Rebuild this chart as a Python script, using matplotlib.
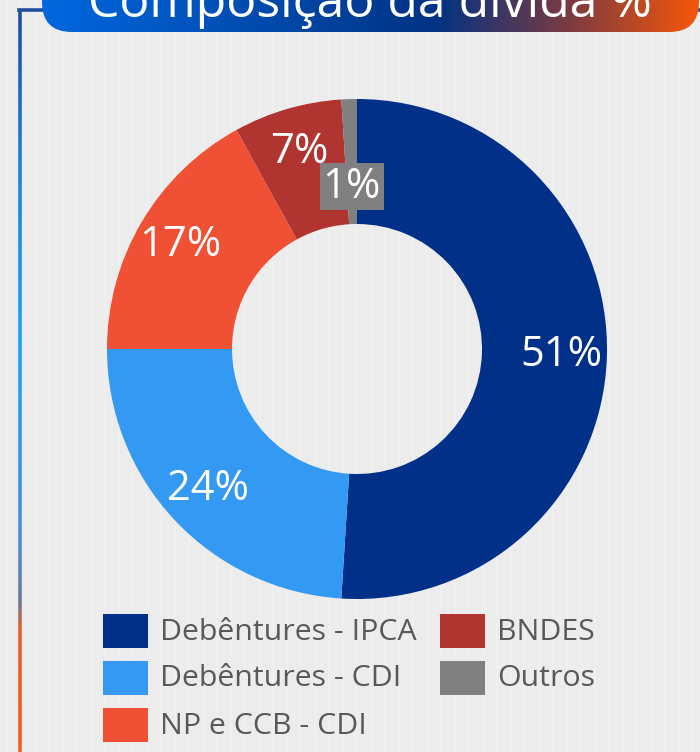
import numpy as np
import matplotlib
matplotlib.use("Agg")
import matplotlib.pyplot as plt
from matplotlib.patches import FancyBboxPatch, Rectangle
from matplotlib.collections import LineCollection
from matplotlib.colors import LinearSegmentedColormap

plt.rcParams["font.family"] = ["Open Sans", "DejaVu Sans"]

TITLE = "Composição da dívida %"
categories = ["Debêntures - IPCA", "Debêntures - CDI", "NP e CCB - CDI", "BNDES", "Outros"]
shares = [51, 24, 17, 7, 1]
colors = ["#003087", "#3399F3", "#F05033", "#B03531", "#808080"]

W, H = 700, 752
BG = "#ECECEC"

fig = plt.figure(figsize=(W / 100, H / 100), dpi=100, facecolor=BG)

# overlay axes in pixel coordinates for decoration and legend
deco = fig.add_axes([0, 0, 1, 1])
deco.set_xlim(0, W)
deco.set_ylim(H, 0)
deco.axis("off")
deco.set_facecolor(BG)

# faint vertical wood-like texture
xs = np.arange(0, W, 7)
for i, x in enumerate(xs):
    deco.axvline(x, color="white", lw=1.2, alpha=0.25 if i % 2 else 0.12, zorder=0)

# left vertical gradient line
line_cmap = LinearSegmentedColormap.from_list(
    "side", [(0, "#1F4E9A"), (0.2, "#1A80DC"), (0.45, "#19A2FF"), (0.72, "#4F8FD0"),
             (0.8, "#6A7A90"), (0.84, "#E8602A"), (1, "#F0601E")])
ys = np.linspace(10, H, 200)
segs = [[(19.5, ys[i]), (19.5, ys[i + 1])] for i in range(len(ys) - 1)]
lc = LineCollection(segs, colors=line_cmap(np.linspace(0, 1, len(segs))), linewidths=2.6,
                    capstyle="butt", zorder=1)
deco.add_collection(lc)
deco.plot([18.5, 45], [10, 10], color="#1F4E9A", lw=2.6, zorder=1)
deco.plot([690, 700], [10, 10], color="#1F4E9A", lw=2.6, zorder=1)

# title banner with gradient
banner_cmap = LinearSegmentedColormap.from_list(
    "banner", [(0, "#0068E0"), (0.6, "#003383"), (0.8, "#7A3A42"), (1, "#F5560A")])
grad = np.linspace(0, 1, 256).reshape(1, -1)
banner = FancyBboxPatch((42, -40), 657, 72, boxstyle="round,pad=0,rounding_size=30",
                        transform=deco.transData, facecolor="none", edgecolor="none")
deco.add_patch(banner)
im = deco.imshow(grad, cmap=banner_cmap, extent=(42, 699, 32, -40), aspect="auto", zorder=2)
im.set_clip_path(banner)
deco.set_xlim(0, W)
deco.set_ylim(H, 0)
deco.text(370, 17, TITLE, color="white", fontsize=36, ha="center", va="baseline", zorder=3)

# legend drawn in pixel space
for i, (cat, col) in enumerate(zip(categories, colors)):
    c, r = (0, i) if i < 3 else (1, i - 3)
    x0 = 103 + c * 337
    y0 = 614 + r * 47
    deco.add_patch(Rectangle((x0, y0), 45, 34, facecolor=col, edgecolor="none", zorder=3))
    deco.text(x0 + 57, y0 + 18, cat, color="#595959", fontsize=21.8, ha="left", va="center", zorder=3)

# donut chart
cx, cy, R = 357, 349, 250
pax = fig.add_axes([(cx - R) / W, (H - cy - R) / H, 2 * R / W, 2 * R / H])
pax.set_facecolor("none")
wedges, _, autotexts = pax.pie(
    shares, colors=colors, startangle=90, counterclock=False,
    autopct="%1.0f%%", pctdistance=0.82,
    wedgeprops=dict(width=0.5, edgecolor="none"),
    textprops=dict(color="white", fontsize=30))
pax.set_xlim(-1, 1)
pax.set_ylim(-1, 1)

# smallest slice: label pulled inward with a grey box
last = wedges[-1]
ang = np.deg2rad((last.theta1 + last.theta2) / 2)
autotexts[-1].set_position((0.65 * np.cos(ang), 0.65 * np.sin(ang)))
autotexts[-1].set_bbox(dict(facecolor=colors[-1], edgecolor="none", pad=2))

fig.savefig("out.png", dpi=100, facecolor=BG)
